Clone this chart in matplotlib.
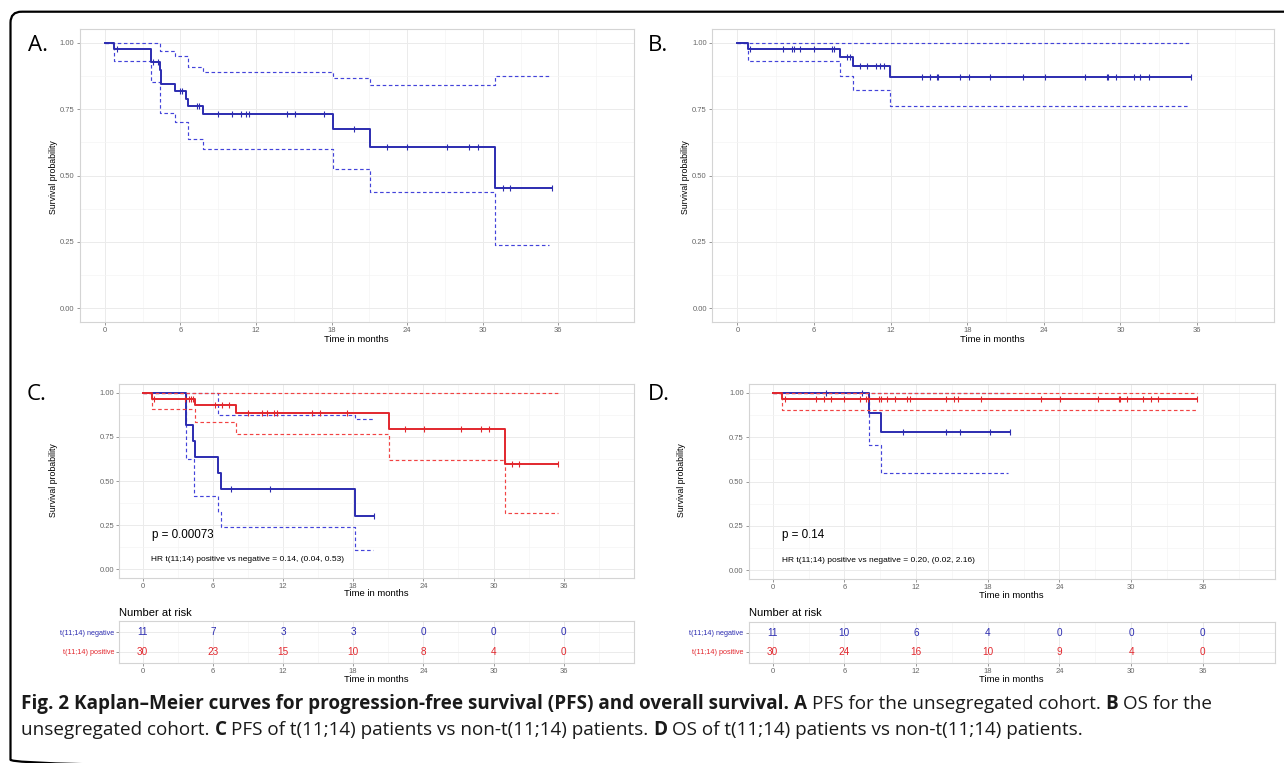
import numpy as np
import matplotlib
matplotlib.use("Agg")
import matplotlib.pyplot as plt
from matplotlib.patches import FancyBboxPatch

plt.rcParams['font.family'] = ['Liberation Sans', 'DejaVu Sans']

W, H = 1284, 763
BLUE = '#2C2CB0'
RED = '#E2272D'
BLUE_CI = '#4343DA'
RED_CI = '#F24343'

# ---- A: PFS, whole cohort ----
a_time = [0, 0.74, 3.66, 4.37, 4.5, 5.54, 6.41, 6.64, 7.80, 18.14, 21.09, 31.0, 35.53]
a_surv = [1.0, 0.976, 0.927, 0.898, 0.845, 0.818, 0.789, 0.762, 0.731, 0.674, 0.607, 0.453, 0.453]
a_up_time = [0, 4.40, 5.54, 6.64, 7.80, 18.14, 21.09, 31.0, 35.3]
a_up = [1.0, 0.967, 0.949, 0.910, 0.890, 0.867, 0.840, 0.875, 0.875]
a_lo_time = [0, 0.74, 3.66, 4.40, 5.54, 6.64, 7.80, 18.14, 21.09, 31.0, 35.3]
a_lo = [1.0, 0.931, 0.850, 0.737, 0.703, 0.637, 0.600, 0.524, 0.439, 0.237, 0.237]
a_cens = [0.95, 3.8, 4.2, 5.99, 6.15, 7.32, 7.45, 9.0, 10.1, 10.8, 11.2, 11.47,
          14.48, 15.06, 17.42, 19.79, 22.38, 24.0, 27.17, 28.92, 29.64, 31.61, 32.17, 35.53]

# ---- B: OS, whole cohort ----
b_time = [0, 0.80, 8.04, 9.04, 11.97, 35.52]
b_surv = [1.0, 0.976, 0.945, 0.912, 0.872, 0.872]
b_up_time = [0, 35.4]
b_up = [1.0, 1.0]
b_lo_time = [0, 0.80, 8.04, 9.04, 11.97, 35.4]
b_lo = [1.0, 0.930, 0.873, 0.823, 0.762, 0.762]
b_cens = [1.0, 3.54, 4.28, 4.41, 4.92, 5.98, 7.37, 7.53, 8.62, 8.85, 9.62, 10.13, 10.87,
          11.2, 11.45, 14.48, 15.12, 15.6, 15.67, 17.47, 18.15, 19.79, 22.39, 24.1, 27.19,
          28.96, 29.05, 29.67, 31.02, 31.56, 32.27, 35.52]

# ---- C: PFS by t(11;14) ----
c_neg_time = [0, 3.70, 4.30, 4.48, 6.45, 6.70, 18.14, 19.81]
c_neg_surv = [1.0, 0.818, 0.727, 0.636, 0.545, 0.455, 0.303, 0.303]
c_neg_up_time = [0, 6.45, 18.14, 19.7]
c_neg_up = [1.0, 0.873, 0.851, 0.851]
c_neg_lo_time = [0, 3.70, 4.40, 6.45, 6.70, 18.14, 19.7]
c_neg_lo = [1.0, 0.624, 0.414, 0.325, 0.240, 0.108, 0.108]
c_neg_cens = [7.55, 10.9, 19.81]

c_pos_time = [0, 0.8, 4.5, 7.95, 21.07, 31.0, 35.47]
c_pos_surv = [1.0, 0.967, 0.929, 0.883, 0.794, 0.595, 0.595]
c_pos_up_time = [0, 35.47]
c_pos_up = [1.0, 1.0]
c_pos_lo_time = [0, 0.8, 4.5, 7.95, 21.07, 31.0, 35.47]
c_pos_lo = [1.0, 0.908, 0.836, 0.766, 0.618, 0.321, 0.321]
c_pos_cens = [0.99, 3.64, 3.93, 4.13, 4.35, 6.18, 6.78, 7.4, 9.0, 10.17, 10.6, 11.2, 11.5,
              14.47, 15.15, 17.44, 22.39, 24.03, 27.21, 28.95, 29.65, 31.6, 32.19, 35.47]

# ---- D: OS by t(11;14) ----
d_neg_time = [0, 8.05, 9.08, 19.86]
d_neg_surv = [1.0, 0.888, 0.778, 0.778]
d_neg_up_time = [0, 19.7]
d_neg_up = [1.0, 1.0]
d_neg_lo_time = [0, 8.05, 9.08, 19.7]
d_neg_lo = [1.0, 0.706, 0.548, 0.548]
d_neg_cens = [4.5, 7.49, 10.92, 14.53, 15.7, 18.2, 19.86]

d_pos_time = [0, 0.79, 35.52]
d_pos_surv = [1.0, 0.967, 0.967]
d_pos_up_time = [0, 35.5]
d_pos_up = [1.0, 1.0]
d_pos_lo_time = [0, 0.79, 35.5]
d_pos_lo = [1.0, 0.906, 0.906]
d_pos_cens = [1.0, 3.6, 4.33, 4.91, 5.98, 7.32, 7.83, 7.94, 8.87, 9.1, 9.6, 10.2, 11.27,
              11.47, 14.53, 15.18, 15.53, 17.45, 22.43, 24.05, 27.24, 28.99, 29.06, 29.65,
              30.99, 31.67, 32.29, 35.52]

# number at risk
risk_times = [0, 6, 12, 18, 24, 30, 36]
c_risk_neg = [11, 7, 3, 3, 0, 0, 0]
c_risk_pos = [30, 23, 15, 10, 8, 4, 0]
d_risk_neg = [11, 10, 6, 4, 0, 0, 0]
d_risk_pos = [30, 24, 16, 10, 9, 4, 0]
group_labels = ['t(11;14) negative', 't(11;14) positive']


def rect(left, top, right, bottom):
    return [left / W, 1 - bottom / H, (right - left) / W, (bottom - top) / H]


def fpos(x, y):
    return x / W, 1 - y / H


def style_grid(ax):
    ax.set_xlim(-2, 42)
    ax.set_xticks(risk_times)
    ax.set_xticks(np.arange(3, 42, 6), minor=True)
    ax.grid(which='major', color='#EBEBEB', lw=0.7)
    ax.grid(which='minor', color='#F4F4F4', lw=0.5)
    ax.set_axisbelow(True)
    for s in ax.spines.values():
        s.set_color('#D4D4D4')
        s.set_linewidth(0.8)
    ax.tick_params(which='major', length=2.2, width=0.6, color='#888888',
                   labelsize=5.5, labelcolor='#666666', pad=1.5)
    ax.tick_params(which='minor', length=0)


def style_km(ax):
    style_grid(ax)
    ax.set_ylim(-0.05, 1.05)
    ax.set_yticks([0, 0.25, 0.5, 0.75, 1.0])
    ax.set_yticklabels(['0.00', '0.25', '0.50', '0.75', '1.00'])
    ax.set_yticks([0.125, 0.375, 0.625, 0.875], minor=True)


def curve(ax, t, s, up_t, up, lo_t, lo, cens, color, ci_color):
    for tt, ss in [(up_t, up), (lo_t, lo)]:
        ln, = ax.step(tt, ss, where='post', color=ci_color, lw=0.85)
        ln.set_dashes((3.0, 2.2))
    ax.step(t, s, where='post', color=color, lw=1.4)
    idx = np.searchsorted(t, cens, side='right') - 1
    ax.plot(cens, np.asarray(s)[idx], ls='none', marker='|', ms=4.5, mew=0.8, color=color)


def risk_table(ax, neg, pos):
    style_grid(ax)
    ax.set_ylim(2.6, 0.4)
    ax.set_yticks([1, 2])
    ax.set_yticklabels(group_labels)
    ax.tick_params(axis='y', labelsize=5.2)
    for lab, col in zip(ax.get_yticklabels(), [BLUE, RED]):
        lab.set_color(col)
    for i, t in enumerate(risk_times):
        ax.text(t, 1, str(neg[i]), color=BLUE, ha='center', va='center', fontsize=7.2)
        ax.text(t, 2, str(pos[i]), color=RED, ha='center', va='center', fontsize=7.2)


fig = plt.figure(figsize=(W / 100, H / 100), dpi=100)

bg = fig.add_axes([0, 0, 1, 1], zorder=-1)
bg.set_xlim(0, W)
bg.set_ylim(H, 0)
bg.axis('off')
bg.add_patch(FancyBboxPatch((10.5, 11.7), 1300, 759, boxstyle='round,pad=0,rounding_size=11',
                            fill=False, lw=1.6, ec='black'))

# panels A and B
axA = fig.add_axes(rect(79.6, 29.3, 633.9, 321.7))
style_km(axA)
curve(axA, a_time, a_surv, a_up_time, a_up, a_lo_time, a_lo, a_cens, BLUE, BLUE_CI)

axB = fig.add_axes(rect(711.9, 29.3, 1273.7, 321.7))
style_km(axB)
curve(axB, b_time, b_surv, b_up_time, b_up, b_lo_time, b_lo, b_cens, BLUE, BLUE_CI)

# panels C and D
axC = fig.add_axes(rect(119.2, 384, 633.9, 578.3))
style_km(axC)
curve(axC, c_neg_time, c_neg_surv, c_neg_up_time, c_neg_up, c_neg_lo_time, c_neg_lo,
      c_neg_cens, BLUE, BLUE_CI)
curve(axC, c_pos_time, c_pos_surv, c_pos_up_time, c_pos_up, c_pos_lo_time, c_pos_lo,
      c_pos_cens, RED, RED_CI)
axC.text(0.77, 0.195, 'p = 0.00073', fontsize=8.4, va='center')
axC.text(0.7, 0.055, 'HR t(11;14) positive vs negative = 0.14, (0.04, 0.53)', fontsize=6, va='center')

axD = fig.add_axes(rect(748.8, 384, 1274.5, 579))
style_km(axD)
curve(axD, d_neg_time, d_neg_surv, d_neg_up_time, d_neg_up, d_neg_lo_time, d_neg_lo,
      d_neg_cens, BLUE, BLUE_CI)
curve(axD, d_pos_time, d_pos_surv, d_pos_up_time, d_pos_up, d_pos_lo_time, d_pos_lo,
      d_pos_cens, RED, RED_CI)
axD.text(0.74, 0.198, 'p = 0.14', fontsize=8.4, va='center')
axD.text(0.74, 0.056, 'HR t(11;14) positive vs negative = 0.20, (0.02, 2.16)', fontsize=6, va='center')

# risk tables
axRC = fig.add_axes(rect(119.2, 620.7, 633.9, 663.3))
risk_table(axRC, c_risk_neg, c_risk_pos)
axRD = fig.add_axes(rect(748.8, 621.7, 1274.5, 663))
risk_table(axRD, d_risk_neg, d_risk_pos)

# axis titles
for x, y in [(53, 177), (686, 177), (53, 480), (681, 480)]:
    fig.text(*fpos(x, y), 'Survival probability', rotation=90, fontsize=6.3, ha='center', va='center')
for x, y in [(356.8, 339), (992.8, 339), (376.5, 593), (1011.7, 595), (376.5, 680), (1011.7, 680)]:
    fig.text(*fpos(x, y), 'Time in months', fontsize=6.8, ha='center', va='center')
for x in [119.2, 748.8]:
    fig.text(*fpos(x, 612.7), 'Number at risk', fontsize=8, ha='left', va='center')

# panel letters
for lab, x, y in [('A.', 28, 45.5), ('B.', 648, 45.5), ('C.', 27, 395), ('D.', 648, 395)]:
    bg.text(x, y, lab, fontsize=16, family='Open Sans', ha='left', va='center')

# caption with bold runs
renderer = fig.canvas.get_renderer()
cap_size = 13.6
cap_lines = [
    (709, [('Fig. 2 Kaplan\u2013Meier curves for progression-free survival (PFS) and overall survival.', 'bold'),
           ('A', 'bold'), ('PFS for the unsegregated cohort.', 'normal'),
           ('B', 'bold'), ('OS for the', 'normal')]),
    (735, [('unsegregated cohort.', 'normal'), ('C', 'bold'),
           ('PFS of t(11;14) patients vs non-t(11;14) patients.', 'normal'),
           ('D', 'bold'), ('OS of t(11;14) patients vs non-t(11;14) patients.', 'normal')]),
]
probe1 = bg.text(0, 0, 'x x', fontsize=cap_size, family='Open Sans')
probe2 = bg.text(0, 0, 'xx', fontsize=cap_size, family='Open Sans')
space_w = probe1.get_window_extent(renderer).width - probe2.get_window_extent(renderer).width
probe1.remove()
probe2.remove()
for y, parts in cap_lines:
    x = 21
    for s, wt in parts:
        t = bg.text(x, y, s, fontsize=cap_size, family='Open Sans', fontweight=wt,
                    color='#1a1a1a', ha='left', va='baseline')
        x += t.get_window_extent(renderer).width + space_w

fig.savefig('out.png', dpi=100)
